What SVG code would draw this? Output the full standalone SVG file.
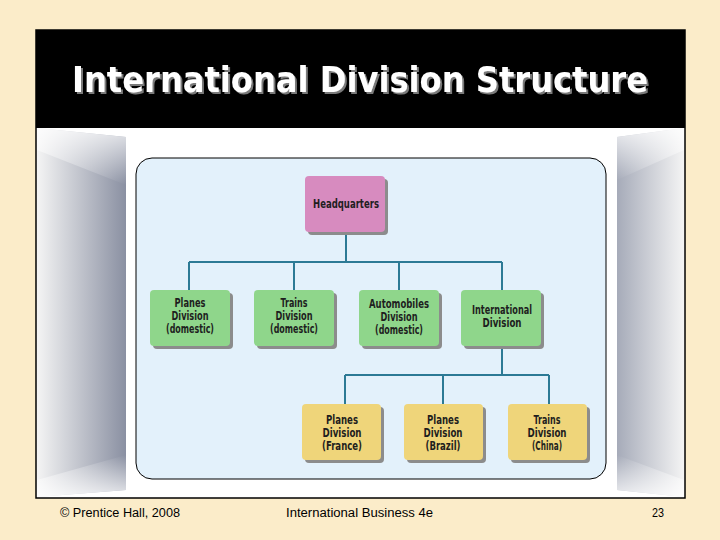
<svg xmlns="http://www.w3.org/2000/svg" width="720" height="540" viewBox="0 0 720 540">
<defs>
<style>
.title{font-family:"DejaVu Sans",Verdana,sans-serif;font-weight:bold;font-size:36px}
.lbl{font-family:"DejaVu Sans Condensed","DejaVu Sans",sans-serif;font-weight:bold;font-size:11.5px;fill:#1e1e1e;text-anchor:middle}
.foot{font-family:"Liberation Sans",Arial,sans-serif;font-size:12px;fill:#000}
.shadow{fill:#8c8c8c}
.hq{fill:#d78bbf}
.green{fill:#8fd68b}
.yellow{fill:#efd57a}
.conn{fill:none;stroke:#2c7a95;stroke-width:2}
</style>
<filter id="tshadow" x="-5%" y="-20%" width="110%" height="140%">
<feFlood flood-color="#7a7a7a" result="c"/>
<feComposite in="c" in2="SourceAlpha" operator="in" result="s"/>
<feOffset in="s" dx="2" dy="2" result="o"/>
<feMerge><feMergeNode in="o"/><feMergeNode in="SourceGraphic"/></feMerge>
</filter>
<linearGradient id="gl" x1="0" y1="0" x2="1" y2="0">
<stop offset="0" stop-color="#f4f4f4"/>
<stop offset="1" stop-color="#8a90a2"/>
</linearGradient>
<linearGradient id="gr" x1="0" y1="0" x2="1" y2="0">
<stop offset="0" stop-color="#a6abb9"/>
<stop offset="1" stop-color="#f4f4f4"/>
</linearGradient>
<linearGradient id="gt" x1="0" y1="0" x2="0" y2="1">
<stop offset="0" stop-color="#ffffff"/>
<stop offset="1" stop-color="#ffffff" stop-opacity="0"/>
</linearGradient>
<linearGradient id="gb" x1="0" y1="1" x2="0" y2="0">
<stop offset="0" stop-color="#ffffff"/>
<stop offset="1" stop-color="#ffffff" stop-opacity="0"/>
</linearGradient>
</defs>

<rect x="0" y="0" width="720" height="540" fill="#fbecc9"/>

<g id="frame">
<rect x="36" y="30" width="649" height="468" fill="#ffffff" stroke="#000" stroke-width="1.5"/>
<rect x="36" y="30" width="649" height="98" fill="#000"/>
<polygon points="37,128 126,137 126,490 37,497" fill="url(#gl)"/>
<polygon points="37,128 126,137 126,185 37,150" fill="url(#gt)" opacity="0.8"/>
<polygon points="37,497 126,490 126,455 37,480" fill="url(#gb)" opacity="0.8"/>
<polygon points="617,137 684,128 684,497 617,490" fill="url(#gr)"/>
<polygon points="617,137 684,128 684,150 617,180" fill="url(#gt)" opacity="0.8"/>
<polygon points="617,490 684,497 684,480 617,455" fill="url(#gb)" opacity="0.8"/>
<rect x="126" y="137" width="491" height="353" fill="#ffffff"/>
<text class="title" x="360" y="92" fill="#ffffff" text-anchor="middle" textLength="576" lengthAdjust="spacingAndGlyphs" filter="url(#tshadow)">International Division Structure</text>
</g>

<rect id="panel" x="136" y="158" width="470" height="321" rx="16" fill="#e3f1fb" stroke="#000" stroke-width="1"/>

<g id="connectors">
<path class="conn" d="M346,233 V262 M189,262 H502 M189,262 V290 M294,262 V290 M399,262 V290 M502,262 V290"/>
<path class="conn" d="M502,347 V375 M345,375 H549 M345,375 V404 M443,375 V404 M549,375 V404"/>
</g>

<g id="hq">
<rect class="shadow" x="308" y="179" width="80" height="56" rx="4"/>
<rect class="hq" x="305" y="176" width="80" height="56" rx="4"/>
<text class="lbl" x="346" y="208" textLength="66" lengthAdjust="spacingAndGlyphs">Headquarters</text>
</g>

<g id="planes-domestic">
<rect class="shadow" x="153" y="293" width="80" height="56" rx="4"/>
<rect class="green" x="150" y="290" width="80" height="56" rx="4"/>
<text class="lbl" x="190" y="307" textLength="31" lengthAdjust="spacingAndGlyphs">Planes</text>
<text class="lbl" x="190" y="320" textLength="37" lengthAdjust="spacingAndGlyphs">Division</text>
<text class="lbl" x="190" y="333" textLength="48" lengthAdjust="spacingAndGlyphs">(domestic)</text>
</g>

<g id="trains-domestic">
<rect class="shadow" x="257" y="293" width="80" height="56" rx="4"/>
<rect class="green" x="254" y="290" width="80" height="56" rx="4"/>
<text class="lbl" x="294" y="307" textLength="27" lengthAdjust="spacingAndGlyphs">Trains</text>
<text class="lbl" x="294" y="320" textLength="37" lengthAdjust="spacingAndGlyphs">Division</text>
<text class="lbl" x="294" y="333" textLength="48" lengthAdjust="spacingAndGlyphs">(domestic)</text>
</g>

<g id="automobiles-domestic">
<rect class="shadow" x="362" y="293" width="80" height="56" rx="4"/>
<rect class="green" x="359" y="290" width="80" height="56" rx="4"/>
<text class="lbl" x="399" y="308" textLength="60" lengthAdjust="spacingAndGlyphs">Automobiles</text>
<text class="lbl" x="399" y="321" textLength="37" lengthAdjust="spacingAndGlyphs">Division</text>
<text class="lbl" x="399" y="334" textLength="48" lengthAdjust="spacingAndGlyphs">(domestic)</text>
</g>

<g id="international-division">
<rect class="shadow" x="464" y="293" width="80" height="56" rx="4"/>
<rect class="green" x="461" y="290" width="80" height="56" rx="4"/>
<text class="lbl" x="502" y="314" textLength="60" lengthAdjust="spacingAndGlyphs">International</text>
<text class="lbl" x="502" y="327" textLength="39" lengthAdjust="spacingAndGlyphs">Division</text>
</g>

<g id="planes-france">
<rect class="shadow" x="305" y="407" width="79" height="56" rx="4"/>
<rect class="yellow" x="302" y="404" width="79" height="56" rx="4"/>
<text class="lbl" x="342" y="424" textLength="32" lengthAdjust="spacingAndGlyphs">Planes</text>
<text class="lbl" x="342" y="437" textLength="39" lengthAdjust="spacingAndGlyphs">Division</text>
<text class="lbl" x="342" y="450" textLength="40" lengthAdjust="spacingAndGlyphs">(France)</text>
</g>

<g id="planes-brazil">
<rect class="shadow" x="407" y="407" width="79" height="56" rx="4"/>
<rect class="yellow" x="404" y="404" width="79" height="56" rx="4"/>
<text class="lbl" x="443" y="424" textLength="32" lengthAdjust="spacingAndGlyphs">Planes</text>
<text class="lbl" x="443" y="437" textLength="39" lengthAdjust="spacingAndGlyphs">Division</text>
<text class="lbl" x="443" y="450" textLength="35" lengthAdjust="spacingAndGlyphs">(Brazil)</text>
</g>

<g id="trains-china">
<rect class="shadow" x="511" y="407" width="79" height="56" rx="4"/>
<rect class="yellow" x="508" y="404" width="79" height="56" rx="4"/>
<text class="lbl" x="547" y="424" textLength="27" lengthAdjust="spacingAndGlyphs">Trains</text>
<text class="lbl" x="547" y="437" textLength="39" lengthAdjust="spacingAndGlyphs">Division</text>
<text class="lbl" x="547" y="450" textLength="30" lengthAdjust="spacingAndGlyphs">(China)</text>
</g>

<g id="footer">
<text class="foot" x="60" y="517" textLength="120" lengthAdjust="spacingAndGlyphs">© Prentice Hall, 2008</text>
<text class="foot" x="286" y="517" textLength="147" lengthAdjust="spacingAndGlyphs">International Business 4e</text>
<text class="foot" x="652" y="517" textLength="12" lengthAdjust="spacingAndGlyphs">23</text>
</g>
</svg>
